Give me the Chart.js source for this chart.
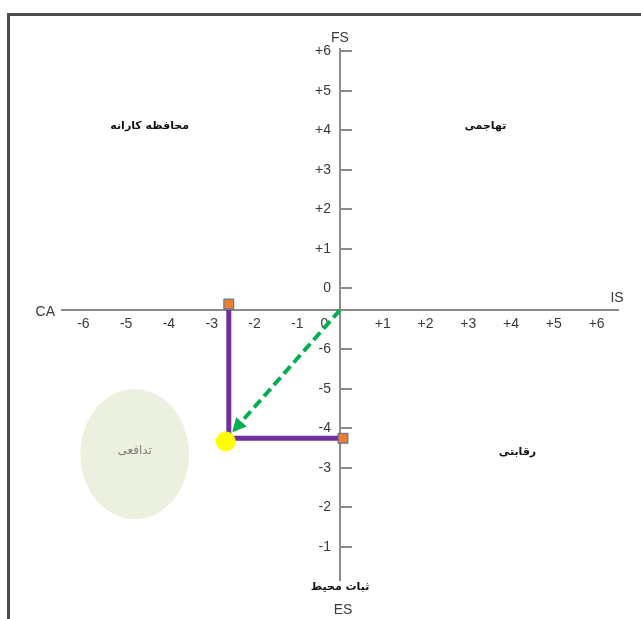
<!DOCTYPE html>
<html>
<head>
<meta charset="utf-8">
<script src="https://cdn.jsdelivr.net/npm/chart.js@4.4.1/dist/chart.umd.min.js"></script>
<style>
  html, body { margin: 0; padding: 0; background: #fff; }
  #wrap { position: relative; width: 641px; height: 619px; overflow: hidden; }
  #frame { position: absolute; left: 7px; top: 13px; right: -10px; bottom: -10px;
           border-left: 3px solid #4d4d4d; border-top: 3px solid #4d4d4d; }
  canvas { position: absolute; left: 0; top: 0; }
</style>
</head>
<body>
<div id="wrap">
  <div id="frame"></div>
  <canvas id="spaceChart" width="641" height="619"></canvas>
</div>
<script>
// SPACE matrix - tick labels
const xTickValues = [-6, -5, -4, -3, -2, -1, 0, 1, 2, 3, 4, 5, 6];
const xTickLabels = ['-6', '-5', '-4', '-3', '-2', '-1', '0', '+1', '+2', '+3', '+4', '+5', '+6'];
const yUpperLabels = ['0', '+1', '+2', '+3', '+4', '+5', '+6'];   // FS side
const yLowerLabels = ['-6', '-5', '-4', '-3', '-2', '-1'];        // ES side, from the axis downward

// axis names
const axisTop = 'FS';
const axisBottom = 'ES';
const axisBottomFa = 'ثبات محیط';
const axisLeft = 'CA';
const axisRight = 'IS';

// quadrant names
const quadrantNames = ['محافظه کارانه', 'تهاجمی', 'رقابتی'];
const quadrantX = [-4.45, 3.4, 4.15];
const quadrantY = [4.65, 4.65, -3.6];

// defensive zone (ellipse)
const zoneName = 'تدافعی';
const zoneCenter = [-4.8, -3.65];
const zoneRadius = [1.27, 1.65];

// result of the analysis
const caValue = -2.6;
const esValue = -3.25;
const markerX = [caValue, 0.07];
const markerY = [0.15, esValue];
const vectorX = [0, -2.52];
const vectorY = [0, -3.1];
const resultX = [-2.67];
const resultY = [-3.33];

const COLORS = {
  axis: '#8c8c8c',
  text: '#3a3a3a',
  purple: '#7030a0',
  green: '#00b050',
  orange: '#ed7d31',
  orangeBorder: '#41719c',
  yellow: '#ffff00',
  zone: '#ebf1de',
  zoneText: '#7f7f7f'
};

// y tick positions: upper labels sit a bit above the horizontal axis
const yTickValues = yUpperLabels.map((l, i) => i + 0.55).concat(yLowerLabels.map((l, j) => -(j + 1)));
const yTickLabels = yUpperLabels.concat(yLowerLabels);

const tickFont = { family: '"Liberation Sans", Arial, sans-serif', size: 14 };

const spaceDecor = {
  id: 'spaceDecor',
  beforeDatasetsDraw(chart) {
    const { ctx, scales: { x, y } } = chart;
    const cx = x.getPixelForValue(zoneCenter[0]);
    const cy = y.getPixelForValue(zoneCenter[1]);
    const rx = x.getPixelForValue(zoneCenter[0] + zoneRadius[0]) - cx;
    const ry = cy - y.getPixelForValue(zoneCenter[1] + zoneRadius[1]);
    ctx.save();
    ctx.fillStyle = COLORS.zone;
    ctx.beginPath();
    ctx.ellipse(cx, cy, rx, ry, 0, 0, Math.PI * 2);
    ctx.fill();
    ctx.fillStyle = COLORS.zoneText;
    ctx.font = '12px "DejaVu Sans"';
    ctx.textAlign = 'center';
    ctx.textBaseline = 'middle';
    ctx.fillText(zoneName, cx, cy - 3);
    ctx.restore();
  },
  afterDatasetsDraw(chart) {
    const { ctx, chartArea, scales: { x, y } } = chart;

    // arrow head on the green vector
    const pts = chart.getDatasetMeta(1).data;
    const p0 = pts[0], p1 = pts[pts.length - 1];
    const ang = Math.atan2(p1.y - p0.y, p1.x - p0.x);
    const len = 14, half = 7;
    ctx.save();
    ctx.fillStyle = COLORS.green;
    ctx.beginPath();
    ctx.moveTo(p1.x, p1.y);
    ctx.lineTo(p1.x - len * Math.cos(ang) + half * Math.sin(ang), p1.y - len * Math.sin(ang) - half * Math.cos(ang));
    ctx.lineTo(p1.x - len * Math.cos(ang) - half * Math.sin(ang), p1.y - len * Math.sin(ang) + half * Math.cos(ang));
    ctx.closePath();
    ctx.fill();

    // quadrant names
    ctx.fillStyle = '#111';
    ctx.font = 'bold 11px "DejaVu Sans"';
    ctx.textAlign = 'center';
    ctx.textBaseline = 'middle';
    quadrantNames.forEach((name, i) => {
      ctx.fillText(name, x.getPixelForValue(quadrantX[i]), y.getPixelForValue(quadrantY[i]));
    });

    // axis names
    const x0 = x.getPixelForValue(0);
    const y0 = y.getPixelForValue(0);
    ctx.fillStyle = COLORS.text;
    ctx.font = '14px "Liberation Sans", Arial, sans-serif';
    ctx.fillText(axisTop, x0, chartArea.top - 11);
    ctx.fillText(axisBottom, x0 + 3, chartArea.bottom + 30);
    ctx.fillText(axisRight, chartArea.right - 1, y0 - 12);
    ctx.textAlign = 'right';
    ctx.fillText(axisLeft, chartArea.left - 7, y0 + 2);
    ctx.textAlign = 'center';
    ctx.fillStyle = '#111';
    ctx.font = 'bold 11px "DejaVu Sans"';
    ctx.fillText(axisBottomFa, x0, chartArea.bottom + 7);
    ctx.restore();
  }
};

new Chart(document.getElementById('spaceChart'), {
  type: 'scatter',
  data: {
    datasets: [
      {
        label: 'result',
        data: resultX.map((v, i) => ({ x: v, y: resultY[i] })),
        pointStyle: 'circle',
        pointRadius: 9.5,
        backgroundColor: COLORS.yellow,
        borderColor: COLORS.yellow,
        order: 0
      },
      {
        label: 'vector',
        data: vectorX.map((v, i) => ({ x: v, y: vectorY[i] })),
        showLine: true,
        borderColor: COLORS.green,
        borderWidth: 4,
        borderDash: [10, 5],
        pointRadius: 0,
        order: 2
      },
      {
        label: 'markers',
        data: markerX.map((v, i) => ({ x: v, y: markerY[i] })),
        pointStyle: 'rect',
        pointRadius: 7,
        backgroundColor: COLORS.orange,
        borderColor: COLORS.orangeBorder,
        borderWidth: 1,
        order: 1
      },
      {
        label: 'L',
        data: [
          { x: caValue, y: 0 },
          { x: caValue, y: esValue },
          { x: 0, y: esValue }
        ],
        showLine: true,
        borderColor: COLORS.purple,
        borderWidth: 5,
        pointRadius: 0,
        order: 3
      }
    ]
  },
  options: {
    responsive: false,
    animation: false,
    events: [],
    layout: { padding: { left: 62, right: 23, top: 49, bottom: 39 } },
    plugins: { legend: { display: false }, tooltip: { enabled: false } },
    scales: {
      x: {
        type: 'linear',
        min: -6.5,
        max: 6.5,
        position: { y: 0 },
        afterBuildTicks: s => { s.ticks = xTickValues.map(v => ({ value: v })); },
        afterFit: s => { s.height = 0; },
        ticks: {
          autoSkip: false,
          maxRotation: 0,
          padding: 6,
          color: COLORS.text,
          font: tickFont,
          // the zero label sits left of the vertical axis
          callback: (v, i) => xTickLabels[i] === '0' ? '0\u2007\u2007\u2007\u2007' : xTickLabels[i]
        },
        grid: { drawOnChartArea: false, drawTicks: false },
        border: { color: COLORS.axis, width: 2 }
      },
      y: {
        type: 'linear',
        min: -6.84,
        max: 6.61,
        position: 'center',
        afterBuildTicks: s => { s.ticks = yTickValues.map(v => ({ value: v })); },
        afterFit: s => { s.width = 0; },
        ticks: {
          autoSkip: false,
          padding: 22,
          color: COLORS.text,
          font: tickFont,
          callback: (v, i) => yTickLabels[i]
        },
        grid: { drawOnChartArea: false, drawTicks: true, tickLength: -13, color: COLORS.axis, lineWidth: 2 },
        border: { color: COLORS.axis, width: 2 }
      }
    }
  },
  plugins: [spaceDecor]
});
</script>
</body>
</html>
